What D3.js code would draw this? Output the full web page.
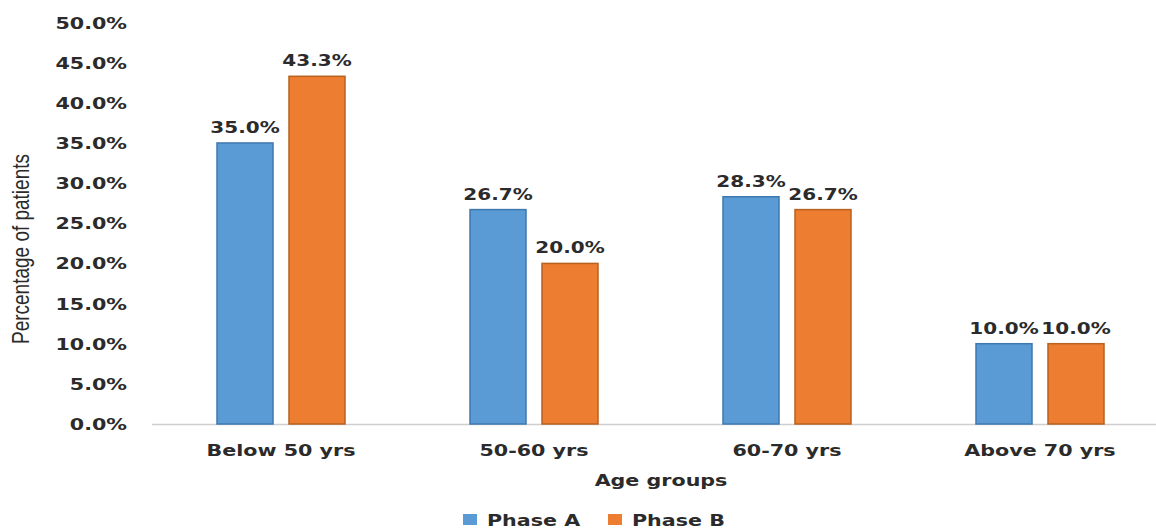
<!DOCTYPE html>
<html>
<head>
<meta charset="utf-8">
<script src="https://cdn.jsdelivr.net/npm/d3@7"></script>
<style>
  html, body { margin: 0; padding: 0; background: #fff; }
  svg { display: block; }
</style>
</head>
<body>
<svg id="chart" width="1156" height="529"></svg>
<script>
const categories = ["Below 50 yrs", "50-60 yrs", "60-70 yrs", "Above 70 yrs"];
const seriesNames = ["Phase A", "Phase B"];
const phaseA = [35.0, 26.7, 28.3, 10.0];
const phaseB = [43.3, 20.0, 26.7, 10.0];
const yTicks = [0, 5, 10, 15, 20, 25, 30, 35, 40, 45, 50];

const seriesValues = [phaseA, phaseB];
const colors = ["#5B9BD5", "#ED7D31"];
const strokes = ["#3F78AE", "#B8621F"];
const SX = 1.29; // horizontal stretch of the reference image

const svg = d3.select("#chart");
const FONT = "'DejaVu Sans', Verdana, sans-serif";

const x0 = d3.scaleBand().domain(categories).range([154.5, 1166.5]).paddingInner(0).paddingOuter(0);
const x1 = d3.scaleBand().domain(seriesNames).range([62.5, 190.5]).paddingInner(0.222).paddingOuter(0);
const y = d3.scaleLinear().domain([0, 50]).range([424, 22.5]);

function stretchedText(sel, x, yy, anchor, size, weight) {
  return sel.append("text")
    .attr("transform", `translate(${x},${yy}) scale(${SX},1)`)
    .attr("text-anchor", anchor)
    .attr("font-family", FONT)
    .attr("font-size", size)
    .attr("font-weight", weight)
    .attr("fill", "#2b2b2b");
}

// Y axis tick labels
const yAxisG = svg.append("g");
yTicks.forEach(t => {
  stretchedText(yAxisG, 127, y(t) + 6, "end", 16, "bold").text(d3.format(".1f")(t) + "%");
});

// X axis line
svg.append("line")
  .attr("x1", 152).attr("x2", 1156)
  .attr("y1", y(0) + 0.5).attr("y2", y(0) + 0.5)
  .attr("stroke", "#cfcfcf").attr("stroke-width", 1.5);

// Bars
const groups = svg.append("g").selectAll("g")
  .data(categories)
  .join("g")
  .attr("transform", d => `translate(${x0(d)},0)`);

groups.each(function(cat, ci) {
  const g = d3.select(this);
  seriesNames.forEach((s, si) => {
    const v = seriesValues[si][ci];
    g.append("rect")
      .attr("x", x1(s))
      .attr("y", y(v))
      .attr("width", x1.bandwidth())
      .attr("height", y(0) - y(v))
      .attr("fill", colors[si])
      .attr("stroke", strokes[si])
      .attr("stroke-width", 1.5);
    stretchedText(g, x1(s) + x1.bandwidth() / 2, y(v) - 10, "middle", 15.5, "bold")
      .text(d3.format(".1f")(v) + "%");
  });
  stretchedText(g, x0.bandwidth() / 2, 456, "middle", 16, "bold").text(cat);
});

// X axis title
stretchedText(svg, 661, 486, "middle", 16, "bold").text("Age groups");

// Y axis title
svg.append("text")
  .attr("transform", `translate(29,249) scale(${SX},1) rotate(-90)`)
  .attr("text-anchor", "middle")
  .attr("font-family", "'Liberation Sans', Arial, sans-serif")
  .attr("font-size", 19)
  .attr("fill", "#2b2b2b")
  .text("Percentage of patients");

// Legend
const legend = svg.append("g");
const legendX = [463, 608];
seriesNames.forEach((s, i) => {
  legend.append("rect")
    .attr("x", legendX[i]).attr("y", 514)
    .attr("width", 14).attr("height", 11)
    .attr("fill", colors[i]);
  stretchedText(legend, legendX[i] + 24, 525.5, "start", 16, "bold").text(s);
});
</script>
</body>
</html>
